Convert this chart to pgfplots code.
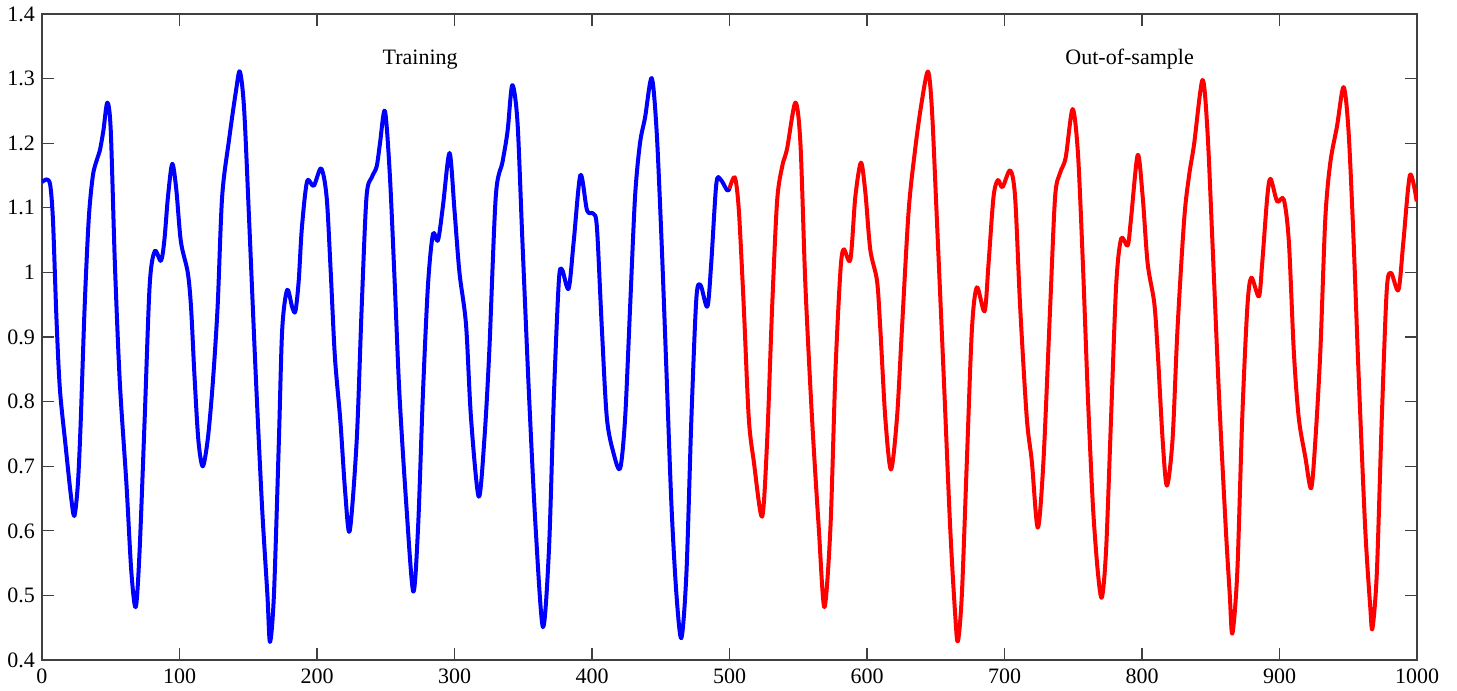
\documentclass[border=0pt]{standalone}
\usepackage{pgfplots}
\pgfplotsset{compat=1.18}
\usepackage{fontspec}
\setmainfont{Liberation Serif}
\begin{document}
\begin{tikzpicture}
\begin{axis}[
  scale only axis, width=687.5pt, height=323pt,
  xmin=0, xmax=1000, ymin=0.4, ymax=1.4,
  xtick={0,100,...,1000}, ytick={0.4,0.5,...,1.41},
  yticklabels={0.4,0.5,0.6,0.7,0.8,0.9,1,1.1,1.2,1.3,1.4},
  tick align=inside, major tick length=6pt,
  tick style={black!75, line width=0.6pt},
  axis line style={black!75, line width=0.6pt},
  tick label style={font=\fontsize{11pt}{13pt}\selectfont},
  /pgf/number format/assume math mode=true,
  /pgf/number format/1000 sep={},
  scaled ticks=false, clip=true,
  xticklabel style={yshift=-1pt},
]
\addplot[blue, line width=2pt, smooth, tension=0.5, line join=round] coordinates {
(0,1.140)(3.5,1.144)(6,1.135)(8,1.08)(10.5,0.93)(13,0.82)(17,0.735)(21,0.655)(23.5,0.623)(26,0.67)(28,0.76)(31,0.946)(34,1.083)(37,1.15)(40,1.175)(42,1.188)(44.6,1.219)(47.5,1.263)(50,1.22)(53,1.014)(56.6,0.83)(61.4,0.673)(65,0.536)(68.2,0.482)(71,0.57)(74.7,0.775)(78.3,0.98)(82,1.033)(86.5,1.018)(89,1.05)(91.6,1.117)(94.7,1.168)(97.6,1.13)(101,1.048)(106,1.0)(108.4,0.946)(110.8,0.844)(113.7,0.741)(116.9,0.700)(120.5,0.741)(124,0.823)(127.7,0.946)(131,1.117)(136,1.205)(141,1.28)(143.9,1.311)(147,1.253)(150.6,1.083)(155.4,0.844)(160,0.639)(163.9,0.502)(165.8,0.428)(168.7,0.502)(172.3,0.741)(174.7,0.912)(178.3,0.973)(182,0.946)(184.3,0.940)(186.7,0.987)(189,1.069)(192.8,1.141)(197.6,1.134)(203,1.161)(207,1.117)(210,1.0)(213,0.87)(217,0.77)(220.5,0.66)(223.8,0.600)(228.9,0.741)(232.5,0.946)(236,1.117)(239.8,1.147)(243.4,1.164)(245.8,1.2)(249.4,1.25)(253,1.15)(256.6,0.98)(260,0.81)(265,0.639)(270,0.506)(273.5,0.605)(277,0.81)(280.7,0.98)(284.3,1.059)(288,1.05)(291.6,1.103)(296.4,1.185)(300,1.096)(303.6,1.0)(308.4,0.919)(312,0.775)(317.6,0.653)(321.7,0.741)(325.3,0.878)(330,1.117)(334.9,1.171)(338.6,1.219)(342,1.29)(345.8,1.233)(349.4,1.048)(354.2,0.81)(359,0.605)(364.3,0.451)(368.7,0.571)(372.3,0.81)(375.9,0.987)(378.3,1.004)(383,0.975)(386.7,1.048)(391.6,1.151)(396.4,1.096)(401,1.091)(403.6,1.069)(407.2,0.912)(410.8,0.775)(415.7,0.72)(420.5,0.697)(424.1,0.775)(427.7,0.946)(431.3,1.117)(434.9,1.2)(438.6,1.24)(443.4,1.301)(447,1.219)(450.6,1.048)(454.2,0.844)(457.8,0.639)(461.4,0.502)(465,0.434)(468.7,0.536)(472.3,0.775)(475.9,0.96)(479,0.98)(483.9,0.947)(486.7,1.014)(490.4,1.137)(493.5,1.144)(498.3,1.127)(500,1.13)
};
\addplot[red, line width=2pt, smooth, tension=0.5, line join=round] coordinates {
(500,1.13)(503.9,1.147)(506.8,1.096)(510.4,0.946)(514,0.775)(517.7,0.707)(523.7,0.622)(527.4,0.741)(531,0.946)(534.6,1.11)(538.3,1.164)(541.9,1.192)(547.9,1.263)(551.6,1.199)(555.2,0.98)(560,0.775)(564.9,0.605)(569,0.482)(573.4,0.605)(577,0.844)(580.6,1.0)(583,1.036)(587.9,1.02)(591.5,1.117)(595.6,1.17)(598.8,1.124)(602.4,1.035)(607.3,0.987)(609.7,0.912)(613.3,0.775)(617.4,0.695)(621.8,0.775)(625.4,0.912)(630.3,1.096)(635.1,1.192)(639.5,1.26)(644.3,1.311)(647.2,1.253)(650.8,1.083)(655.7,0.844)(660.5,0.605)(664.2,0.468)(666.1,0.429)(669,0.502)(672.6,0.707)(676.3,0.912)(679.9,0.977)(685.5,0.94)(688.4,1.014)(692,1.117)(695.2,1.143)(698.5,1.132)(704.1,1.158)(707.7,1.117)(711.4,0.946)(716.2,0.775)(719.9,0.707)(724.2,0.605)(728.3,0.707)(733.2,0.946)(736.8,1.117)(740.4,1.154)(744.5,1.178)(749.5,1.253)(753.4,1.185)(757,1.014)(760.6,0.81)(764.3,0.639)(767.9,0.536)(770.8,0.497)(773.9,0.571)(777.5,0.775)(781.2,0.98)(784.8,1.052)(789.6,1.042)(792,1.083)(796.9,1.182)(800.5,1.117)(804.1,1.014)(808.9,0.953)(811.4,0.878)(815,0.741)(818.1,0.67)(822.2,0.741)(825.8,0.912)(830.7,1.083)(834.3,1.151)(837.9,1.199)(844,1.298)(847.6,1.219)(851.2,1.048)(856,0.81)(860.9,0.605)(863.8,0.502)(865.7,0.441)(869.3,0.536)(872.9,0.775)(876.6,0.946)(879.5,0.992)(885,0.963)(887.4,1.014)(891.1,1.117)(893.5,1.145)(898.3,1.11)(903.1,1.113)(906.8,1.048)(910.4,0.878)(914,0.775)(918.8,0.714)(923,0.666)(926.1,0.741)(929.7,0.878)(933.3,1.083)(937,1.171)(941.8,1.226)(946.6,1.287)(950.2,1.219)(953.9,1.048)(957.5,0.844)(962.3,0.605)(966,0.482)(967.6,0.449)(970.8,0.536)(974.4,0.775)(978,0.973)(981.2,0.999)(986.5,0.973)(990.1,1.048)(994.9,1.151)(999.8,1.11)
};
\node[font=\fontsize{11pt}{13pt}\selectfont] at (axis cs:275,1.33) {Training};
\node[font=\fontsize{11pt}{13pt}\selectfont] at (axis cs:791,1.33) {Out-of-sample};
\end{axis}
\path (current axis.south west) ++(-21pt,-15pt) coordinate (bbA);
\path (current axis.north east) ++(20pt,6pt) coordinate (bbB);
\path (bbA) rectangle (bbB);
\end{tikzpicture}
\end{document}
